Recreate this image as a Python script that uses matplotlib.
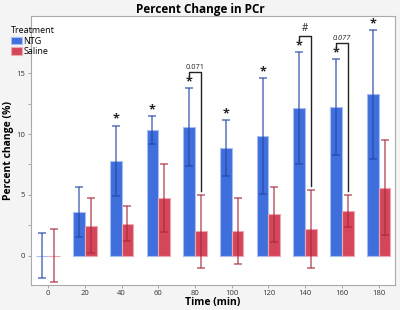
import numpy as np
import matplotlib.pyplot as plt

plt.rcParams['font.family'] = ['Open Sans', 'DejaVu Sans']

times = [0, 20, 40, 60, 80, 100, 120, 140, 160, 180]
ntg_mean = [0.0, 3.6, 7.8, 10.33, 10.57, 8.83, 9.84, 12.16, 12.2, 13.28]
ntg_err = [1.85, 2.05, 2.9, 1.15, 3.2, 2.3, 4.8, 4.6, 3.95, 5.3]
sal_mean = [0.0, 2.46, 2.62, 4.75, 2.02, 2.05, 3.39, 2.2, 3.69, 5.6]
sal_err = [2.2, 2.25, 1.45, 2.8, 3.0, 2.7, 2.3, 3.2, 1.32, 3.9]

# significance stars above NTG bars
star_times = [40, 60, 80, 100, 120, 140, 160, 180]
# brackets between NTG and saline: (time, label, top value)
brackets = [(80, '0.071', 15.1), (140, '#', 18.1), (160, '0.077', 17.5)]

blue = '#3F6FDC'
red = '#D6465A'
blue_dark = '#2547A8'
red_dark = '#A82A3C'

fig = plt.figure(figsize=(4, 3.1), dpi=100, facecolor='#F4F4F4')
ax = fig.add_axes([0.077, 0.081, 0.911, 0.867])
ax.set_facecolor('white')

x = np.array(times, dtype=float)
w = 6.4
ax.bar(x - w / 2, ntg_mean, width=w, color=blue, edgecolor='#A9BDF0', linewidth=0.8, label='NTG', zorder=2)
ax.bar(x + w / 2, sal_mean, width=w, color=red, edgecolor='#EDA9B2', linewidth=0.8, label='Saline', zorder=2)
ax.errorbar(x - w / 2, ntg_mean, yerr=ntg_err, fmt='none', ecolor=blue_dark, elinewidth=1.1,
            capsize=3, capthick=1.1, alpha=0.75, zorder=3)
ax.errorbar(x + w / 2, sal_mean, yerr=sal_err, fmt='none', ecolor=red_dark, elinewidth=1.1,
            capsize=3, capthick=1.1, alpha=0.75, zorder=3)

for t in star_times:
    i = times.index(t)
    ax.text(t - w / 2, ntg_mean[i] + ntg_err[i] + 1.05, '*', ha='center', va='top',
            fontsize=9, fontweight='bold', color='#222222', zorder=4)

for t, lab, top in brackets:
    i = times.index(t)
    xl = t - w / 2
    xr = t + w / 2
    ax.plot([xl, xl, xr, xr], [top - 0.4, top, top, sal_mean[i] + sal_err[i] + 0.3],
            color='#222222', lw=1.0, zorder=4)
    if lab == '#':
        ax.text((xl + xr) / 2, top + 0.15, lab, ha='center', va='bottom', fontsize=7, color='#222222')
    else:
        ax.text((xl + xr) / 2, top + 0.1, lab, ha='center', va='bottom', fontsize=5.3,
                color='#222222', style='italic' if lab == '0.077' else 'normal')

ax.set_xlim(-9.4, 189)
ax.set_ylim(-2.4, 19.7)
ax.set_xticks(times)
ax.set_yticks([0, 5, 10, 15])
ax.set_yticks([2.5, 7.5, 12.5, 17.5], minor=True)
ax.tick_params(axis='both', labelsize=5.5, length=2.5, width=0.6, pad=1.5,
               colors='#999999', labelcolor='#333333')
ax.tick_params(axis='y', which='minor', length=2, width=0.6, colors='#999999')
for s in ax.spines.values():
    s.set_color('#AAAAAA')
    s.set_linewidth(0.8)

ax.set_xlabel('Time (min)', fontsize=7.5, fontweight='bold', labelpad=0)
ax.set_ylabel('Percent change (%)', fontsize=7.5, fontweight='bold', labelpad=2)
fig.text(0.5, 0.99, 'Percent Change in PCr', ha='center', va='top', fontsize=8.5, fontweight='bold')

leg = ax.legend(title='Treatment', loc='upper left', bbox_to_anchor=(-0.065, 0.975), frameon=False,
                fontsize=6.5, title_fontsize=6.5, handlelength=1.3, handleheight=0.9,
                handletextpad=0.1, labelspacing=0.15, borderaxespad=0)
leg._legend_box.align = 'left'

fig.savefig('out.png', dpi=100, facecolor=fig.get_facecolor())
